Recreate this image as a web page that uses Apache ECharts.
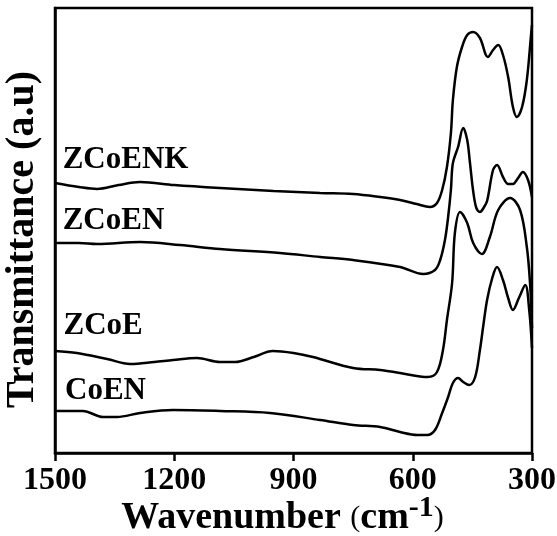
<!DOCTYPE html>
<html>
<head>
<meta charset="utf-8">
<script src="https://cdn.jsdelivr.net/npm/echarts@6/dist/echarts.min.js"></script>
<style>
  html, body { margin: 0; padding: 0; background: #fff; }
  #chart { width: 557px; height: 536px; }
</style>
</head>
<body>
<div id="chart"></div>
<script>
// x ticks (wavenumber, reversed axis)
const xTicks = [1500, 1200, 900, 600, 300]
const seriesNames = ['ZCoENK', 'ZCoEN', 'ZCoE', 'CoEN']

// [wavenumber, transmittance (offset, a.u.)]
const zcoenk = [
  [1500, 270], [1440, 266], [1394, 264], [1340, 268], [1286, 271], [1200, 268],
  [1085, 265], [950, 262], [833, 260], [750, 259], [682, 256], [632, 253],
  [590, 249], [557, 246], [539, 250], [526, 263], [514, 286], [504, 320],
  [499, 353], [489, 386], [476, 406], [463, 418], [448, 421], [431, 415],
  [411, 396], [398, 403], [385, 408], [373, 398], [360, 376], [348, 346],
  [338, 336], [325, 346], [313, 373], [302, 420], [300, 428]
]
const zcoen = [
  [1500, 210], [1440, 210], [1394, 209], [1286, 211], [1185, 208], [1085, 204],
  [934, 200], [833, 196], [750, 193], [632, 186], [574, 179], [544, 183],
  [531, 193], [519, 213], [511, 236], [504, 263], [499, 290], [486, 306],
  [473, 325], [463, 313], [456, 290], [448, 262], [440, 245], [431, 241],
  [422, 245], [413, 252], [398, 283], [388, 288], [373, 276], [360, 269],
  [348, 269], [335, 275], [323, 281], [310, 273], [300, 256]
]
const zcoe = [
  [1500, 102], [1445, 100], [1369, 94], [1311, 89], [1250, 91], [1203, 93],
  [1143, 95], [1085, 91], [1047, 91], [1000, 96], [952, 102], [900, 100],
  [851, 96], [750, 85], [682, 83], [632, 80], [562, 76], [539, 81],
  [524, 103], [514, 133], [501, 170], [494, 220], [481, 241], [463, 230],
  [448, 210], [426, 199], [406, 216], [385, 243], [355, 255], [330, 243],
  [313, 206], [305, 170], [300, 125]
]
const coen = [
  [1500, 42], [1430, 42], [1379, 36], [1344, 36], [1286, 40], [1203, 43],
  [1085, 42], [959, 40], [833, 33], [750, 28], [682, 26], [632, 21],
  [589, 18], [564, 18], [544, 23], [526, 40], [511, 56], [499, 70],
  [486, 75], [473, 71], [458, 68], [443, 76], [431, 103], [423, 126],
  [413, 153], [400, 175], [388, 186], [373, 173], [360, 155], [348, 143],
  [333, 155], [317, 168], [307, 143], [300, 105]
]
// where each name sits, in data units
const labelAt = [[1482, 293], [1482, 232], [1480, 127], [1476, 62]]

const font = 'Liberation Serif'
const chart = echarts.init(document.getElementById('chart'))

const allData = [zcoenk, zcoen, zcoe, coen]
const series = allData.map(function(d, i) {
  return {
    name: seriesNames[i],
    type: 'line',
    data: d,
    smooth: 0.35,
    showSymbol: false,
    lineStyle: { color: '#000', width: 2.5 },
    itemStyle: { color: '#000' },
    markPoint: {
      symbol: 'circle',
      symbolSize: 1,
      itemStyle: { color: 'rgba(0,0,0,0)' },
      label: {
        show: true,
        position: 'right',
        distance: 0,
        formatter: seriesNames[i],
        color: '#000',
        fontSize: 31,
        fontWeight: 'bold',
        fontFamily: font
      },
      data: [{ coord: labelAt[i] }]
    }
  }
})

chart.setOption({
  animation: false,
  backgroundColor: '#fff',
  grid: {
    left: 55, right: 25, top: 8, bottom: 83,
    show: true, borderColor: '#000', borderWidth: 2.5,
    outerBoundsMode: 'none'
  },
  xAxis: {
    type: 'value',
    inverse: true,
    min: xTicks[xTicks.length - 1],
    max: xTicks[0],
    interval: 300,
    axisLine: { show: true, lineStyle: { color: '#000', width: 2.5 } },
    axisTick: { show: true, inside: false, length: 8, lineStyle: { color: '#000', width: 2.5 } },
    axisLabel: {
      color: '#000', fontSize: 32, fontWeight: 'bold', fontFamily: font, margin: 12,
      showMinLabel: true, showMaxLabel: true,
      formatter: function(v) { return String(v) }
    },
    splitLine: { show: false },
    name: '{b|Wavenumber }{p|(}{b|cm}{s|-1}{p|)}',
    nameLocation: 'middle',
    nameGap: 40,
    nameMoveOverlap: false,
    nameTextStyle: {
      padding: [0, 22, 0, 0],
      rich: {
        b: { fontSize: 38, fontWeight: 'bold', fontFamily: font, color: '#000' },
        p: { fontSize: 30, fontFamily: font, color: '#000' },
        s: { fontSize: 30, fontWeight: 'bold', fontFamily: font, color: '#000', padding: [0, 0, 20, 0] }
      }
    }
  },
  yAxis: {
    type: 'value',
    min: 0,
    max: 445,
    axisLine: { show: true, lineStyle: { color: '#000', width: 2.5 } },
    axisTick: { show: false },
    axisLabel: { show: false },
    splitLine: { show: false },
    name: 'Transmittance (a.u)',
    nameLocation: 'middle',
    nameGap: 12,
    nameMoveOverlap: false,
    nameTextStyle: { color: '#000', fontSize: 40, fontWeight: 'bold', fontFamily: font, padding: [0, 18, 0, 0] }
  },
  series: series
})
</script>
</body>
</html>
